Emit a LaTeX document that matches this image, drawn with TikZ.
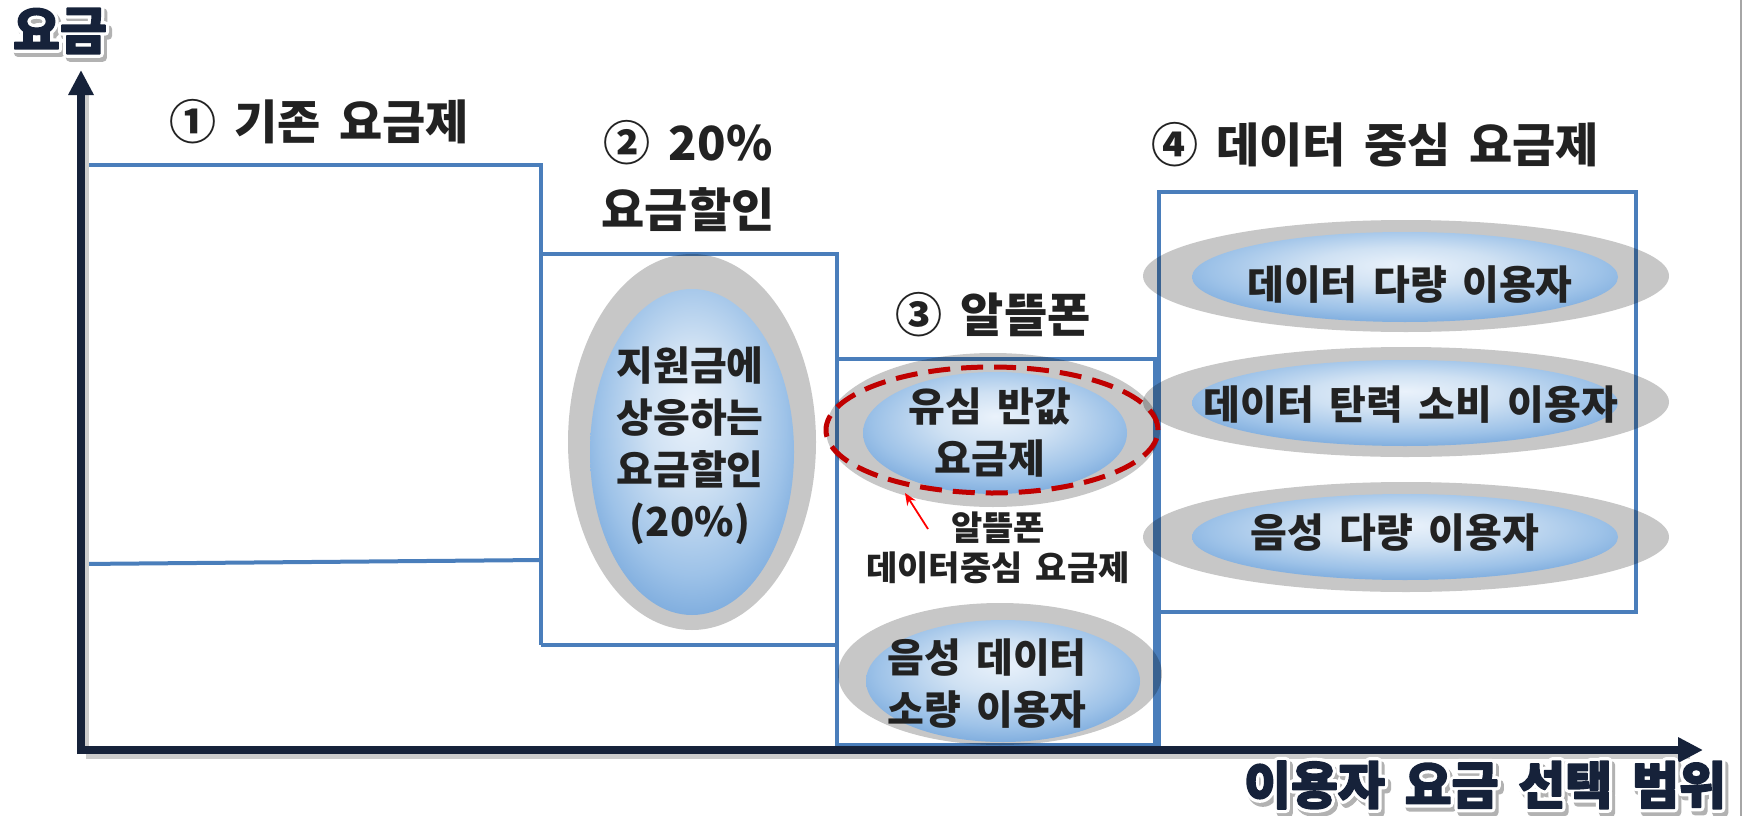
\documentclass[tikz,border=0pt]{standalone}
\usepackage{fontspec}
\newfontfamily\kr{Noto Sans CJK KR}[WordSpace=1.35]
\newfontfamily\krlab{Noto Sans CJK KR}[WordSpace=1.7]
\usetikzlibrary{arrows.meta,calc,shapes.geometric}
\definecolor{navy}{HTML}{16223A}
\definecolor{boxblue}{HTML}{4A7EBB}
\definecolor{txt}{HTML}{222222}
\definecolor{dred}{HTML}{C00000}
\definecolor{gl0}{HTML}{EAF2FB}
\definecolor{gl1}{HTML}{CFE1F3}
\definecolor{gl2}{HTML}{9DC2E8}
\definecolor{gl3}{HTML}{6198D4}
\definecolor{gl4}{HTML}{3B72B6}
\definecolor{gl5}{HTML}{27528A}
\pgfdeclareradialshading{glass}{\pgfpoint{0bp}{7bp}}{color(0bp)=(gl0); color(11bp)=(gl1); color(23bp)=(gl2); color(35bp)=(gl3); color(46bp)=(gl4); color(58bp)=(gl5)}
\newcommand\strk[2]{\special{pdf:literal direct q 2 Tr #1 w 1 j}#2\special{pdf:literal direct Q}}
\newcommand\fancytext[3]{%
  \path (#2) ++(3,4) node[axlab, text=black!30]{\strk{8}{#3}};
  \path (#2) node[axlab, text=white]{\strk{8}{#3}};
  \node[axlab, text=navy] (#1) at (#2) {\strk{1.5}{#3}};
}
\begin{document}
\begin{tikzpicture}[x=1pt,y=-1pt,
  bline/.style={draw=boxblue, line width=4pt},
  halo/.style={fill=black, fill opacity=0.22},
  pillbg/.style={shading=glass},
  ttl/.style={font=\kr\bfseries\fontsize{47}{67}\selectfont, text=txt, inner sep=0pt, align=center},
  pill/.style={font=\kr\bfseries\fontsize{40}{52}\selectfont, text=txt, inner sep=0pt, align=center},
  note/.style={font=\kr\bfseries\fontsize{34}{40}\selectfont, text=txt, inner sep=0pt, align=center},
  axlab/.style={font=\krlab\bfseries\fontsize{51}{60}\selectfont, inner sep=0pt},
  axis/.style={draw=navy, line width=8pt, -{Triangle[length=25pt,width=24pt]}}
]
\useasboundingbox (0,0) rectangle (1748,816);
\fill[white] (0,0) rectangle (1748,816);
\draw[black!35, line width=2pt] (1741,0) -- (1741,816);

% boxes
\draw[bline] (81,165) -- (541,165) -- (541,645);
\draw[bline] (81,564) -- (541,560);
\draw[bline] (541,254) -- (837,254) -- (837,748);
\draw[bline] (541,645) -- (837,645);
\draw[bline] (837,359) -- (1155,359) -- (1155,746);
\draw[bline] (837,745) -- (1155,745);
\draw[bline] (1159,748) -- (1159,192) -- (1636,192) -- (1636,612) -- (1159,612);

% gray halos
\fill[halo] (692,442) ellipse [x radius=124pt, y radius=188pt];
\fill[halo] (993,430) ellipse [x radius=167pt, y radius=77pt];
\fill[halo] (1000,674) ellipse [x radius=162pt, y radius=71pt];
\fill[halo] (1406,276) ellipse [x radius=263pt, y radius=56pt];
\fill[halo] (1406,402) ellipse [x radius=263pt, y radius=55pt];
\fill[halo] (1406,537) ellipse [x radius=263pt, y radius=55pt];

% glass ellipses
\path[pillbg] (692,452) ellipse [x radius=102pt, y radius=163pt];
\path[pillbg] (995,433) ellipse [x radius=132pt, y radius=61pt];
\path[pillbg] (1003,681) ellipse [x radius=137pt, y radius=61pt];
\path[pillbg] (1405,277) ellipse [x radius=213pt, y radius=45pt];
\path[pillbg] (1405,403) ellipse [x radius=213pt, y radius=43pt];
\path[pillbg] (1405,537) ellipse [x radius=213pt, y radius=43pt];

% titles
\node[ttl] (t1) at (319,122) {① 기존 요금제};
\node[ttl] (t2) at (688,176) {② 20\%\\요금할인};
\node[ttl] (t3) at (993,315) {③ 알뜰폰};
\node[ttl] (t4) at (1375,145) {④ 데이터 중심 요금제};

% pill texts
\node[pill] (p2) at (690,446) {지원금에\\상응하는\\요금할인\\(20\%)};
\node[pill] (p3a) at (990,432) {유심 반값\\요금제};
\node[pill] (p3b) at (987,684) {음성 데이터\\소량 이용자};
\node[pill] (p4a) at (1410,285) {데이터 다량 이용자};
\node[pill] (p4b) at (1411,405) {데이터 탄력 소비 이용자};
\node[pill] (p4c) at (1395,533) {음성 다량 이용자};
\node[note] (n3) at (998,548) {알뜰폰\\데이터중심 요금제};

% red selection
\node[draw=dred, line width=5pt, dash pattern=on 22pt off 11pt, ellipse, minimum width=332pt, minimum height=126pt, inner sep=0pt] (sel) at (992,430) {};
\coordinate (aS) at (928,529);
\coordinate (aE) at (905,493);
\draw[red, line width=1.8pt, -{Stealth[length=12pt,width=10pt]}] (aS) -- (aE);

% axes
\coordinate (O) at (81,750);
\coordinate (Ytip) at (81,70);
\coordinate (Xtip) at (1703,750);
\draw[black!20, line width=5pt] (86,756) -- (1690,756);
\draw[black!20, line width=4pt] (87,95) -- (87,750);
\draw[axis] (81,754) -- (Ytip);
\draw[axis] (77,750) -- (Xtip);

% axis labels
\fancytext{ylab}{60,31}{요금}
\fancytext{xlab}{1485,785}{이용자 요금 선택 범위}
\end{tikzpicture}
\end{document}
